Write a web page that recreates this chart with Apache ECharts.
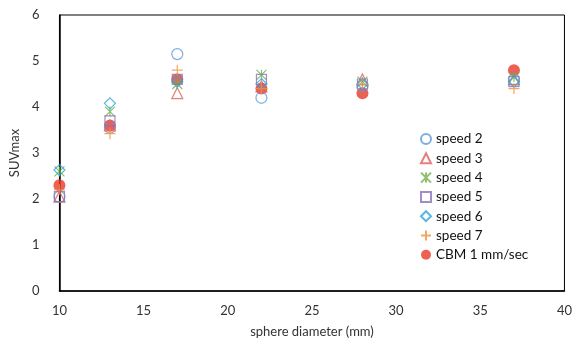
<!DOCTYPE html>
<html><head><meta charset="utf-8">
<script src="https://cdn.jsdelivr.net/npm/echarts@6/dist/echarts.min.js"></script>
<style>html,body{margin:0;padding:0;background:#fff}#c{width:575px;height:343px}</style>
</head><body><div id="c"></div>
<script>
const xTicks = [10, 15, 20, 25, 30, 35, 40];
const yTicks = [0, 1, 2, 3, 4, 5, 6];
const diameters = [10, 13, 17, 22, 28, 37];
const speed2 = [2.05, 3.55, 5.15, 4.2, 4.45, 4.6];
const speed3 = [2.05, 3.6, 4.3, 4.45, 4.6, 4.6];
const speed4 = [2.6, 3.9, 4.5, 4.7, 4.55, 4.65];
const speed5 = [2.05, 3.7, 4.6, 4.6, 4.5, 4.55];
const speed6 = [2.63, 4.08, 4.55, 4.5, 4.5, 4.55];
const speed7 = [2.2, 3.42, 4.8, 4.4, 4.5, 4.4];
const cbm = [2.3, 3.6, 4.6, 4.4, 4.3, 4.8];

const pts = v => diameters.map((d, i) => [d, v[i]]);
const FONT = 'Lato';
function hollow(name, data, symbol, color, size, z) {
  return {
    name, type: 'scatter', data: pts(data), symbol, symbolSize: size, z: z || 3,
    itemStyle: { color: 'transparent', borderColor: color, borderWidth: 1.2 }
  };
}
const series = [
  { name: 'CBM 1 mm/sec', type: 'scatter', data: pts(cbm), symbol: 'circle', symbolSize: 12, z: 2,
    itemStyle: { color: '#e8392a' } },
  hollow('speed 2', speed2, 'circle', '#5b9bd5', 11),
  hollow('speed 3', speed3, 'triangle', '#e06060', 11),
  hollow('speed 4', speed4, 'path://M0 0 L10 10 M10 0 L0 10 M5 0 L5 10', '#6fb04a', 10),
  hollow('speed 5', speed5, 'rect', '#8a72b8', 10),
  hollow('speed 6', speed6, 'diamond', '#2aa8d8', 11),
  hollow('speed 7', speed7, 'path://M0 5 L10 5 M5 0 L5 10', '#f0913a', 11)
];
const chart = echarts.init(document.getElementById('c'), null, { renderer: 'canvas' });
chart.setOption({
  animation: false,
  backgroundColor: '#fff',
  grid: { left: 57, right: 9, top: 15, bottom: 52, show: true, borderColor: '#000', borderWidth: 1, backgroundColor: 'transparent' },
  xAxis: {
    type: 'value', min: xTicks[0], max: xTicks[xTicks.length - 1], interval: 5,
    name: 'sphere diameter (mm)', nameLocation: 'middle', nameGap: 34,
    nameTextStyle: { fontFamily: FONT, fontSize: 13, color: '#333' },
    axisLine: { show: true, lineStyle: { color: '#000', width: 1.5 } },
    axisTick: { show: false }, splitLine: { show: false },
    axisLabel: { fontFamily: FONT, fontSize: 13, color: '#333', margin: 13 }
  },
  yAxis: {
    type: 'value', min: yTicks[0], max: yTicks[yTicks.length - 1], interval: 1,
    name: 'SUVmax', nameLocation: 'middle', nameGap: 36, nameRotate: 90,
    nameTextStyle: { fontFamily: FONT, fontSize: 13, color: '#333' },
    axisLine: { show: true, lineStyle: { color: '#000', width: 1.5 } },
    axisTick: { show: false }, splitLine: { show: false },
    axisLabel: { fontFamily: FONT, fontSize: 13, color: '#333', margin: 20 }
  },
  legend: {
    orient: 'vertical', left: 415, top: 127, itemWidth: 10, itemHeight: 10, itemGap: 5.3,
    data: ['speed 2', 'speed 3', 'speed 4', 'speed 5', 'speed 6', 'speed 7', 'CBM 1 mm/sec'],
    textStyle: { fontFamily: FONT, fontSize: 13.5, color: '#111', lineHeight: 14 }
  },
  series
});
</script></body></html>
